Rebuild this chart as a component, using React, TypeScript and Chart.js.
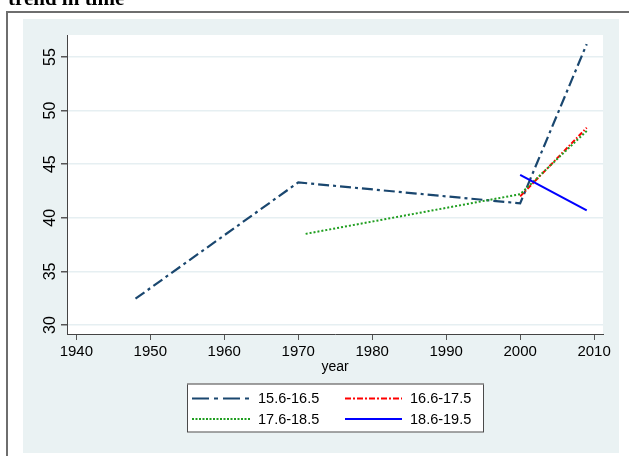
import React, { useEffect, useRef } from "react";
import { Chart, registerables } from "chart.js";

Chart.register(...registerables);

const TITLE = "trend in time";
const X_TITLE = "year";

const xTicks = [1940, 1950, 1960, 1970, 1980, 1990, 2000, 2010];
const yTicks = [30, 35, 40, 45, 50, 55];

const seriesNames = ["15.6-16.5", "16.6-17.5", "17.6-18.5", "18.6-19.5"];

const years1 = [1948, 1970, 2000, 2009];
const values1 = [32.45, 43.3, 41.35, 56.2];

const years2 = [2000, 2009];
const values2 = [42.0, 48.4];

const years3 = [1971, 2000, 2009];
const values3 = [38.5, 42.2, 48.1];

const years4 = [2000, 2009];
const values4 = [44.0, 40.7];

const colors = ["#1a476f", "#ff0000", "#1f9e1f", "#0000ff"];
const dataDash = [[11, 4, 3, 4], [5, 2, 1.5, 2], [2, 2], []];
const legendDash = [[17, 5, 4, 5], [6, 2, 2, 2], [2, 1.5], []];
const widths = [2.2, 2, 2, 2];

const SANS = '"Liberation Sans", Arial, sans-serif';

const toPts = (xs: number[], ys: number[]) => xs.map((x, i) => ({ x, y: ys[i] }));

const decorPlugin = {
  id: "decor",
  beforeDraw(chart: any) {
    const { ctx, chartArea: a, width, height } = chart;
    ctx.save();
    ctx.fillStyle = "#ffffff";
    ctx.fillRect(0, 0, width, height);
    ctx.fillStyle = "#000000";
    ctx.font = 'bold 21px "Liberation Serif", "Times New Roman", serif';
    ctx.textAlign = "left";
    ctx.textBaseline = "alphabetic";
    ctx.fillText(TITLE, 8, 5);
    ctx.fillStyle = "#6e6e6e";
    ctx.fillRect(7, 11, width - 7, 2);
    ctx.fillRect(6, 11, 2, height - 11);
    ctx.fillStyle = "#eaf2f3";
    ctx.fillRect(23, 19, 596, 434);
    ctx.fillStyle = "#ffffff";
    ctx.fillRect(a.left, a.top, a.right - a.left, a.bottom - a.top);
    ctx.restore();
  },
  afterDraw(chart: any) {
    const { ctx, chartArea: a } = chart;
    ctx.save();
    ctx.fillStyle = "#000000";
    ctx.font = `14px ${SANS}`;
    ctx.textAlign = "center";
    ctx.textBaseline = "middle";
    ctx.fillText(X_TITLE, (a.left + a.right) / 2, 367);
    const bx = 187, by = 383.5, bw = 297, bh = 49;
    ctx.fillStyle = "#ffffff";
    ctx.fillRect(bx, by, bw, bh);
    ctx.strokeStyle = "#4a4a4a";
    ctx.lineWidth = 1;
    ctx.strokeRect(bx + 0.5, by + 0.5, bw - 1, bh - 1);
    ctx.fillStyle = "#9a9a9a";
    ctx.fillRect(bx, by - 0.5, bw, 1.5);
    const rows = [398.5, 419];
    const lineX = [[192, 250], [345, 402]];
    const textX = [258, 410];
    chart.data.datasets.forEach((ds: any, i: number) => {
      const col = i % 2;
      const row = Math.floor(i / 2);
      const y = rows[row];
      ctx.strokeStyle = ds.borderColor;
      ctx.lineWidth = ds.borderWidth;
      ctx.setLineDash(legendDash[i]);
      ctx.beginPath();
      ctx.moveTo(lineX[col][0], y);
      ctx.lineTo(lineX[col][1], y);
      ctx.stroke();
      ctx.setLineDash([]);
      ctx.fillStyle = "#000000";
      ctx.font = `14.5px ${SANS}`;
      ctx.textAlign = "left";
      ctx.textBaseline = "middle";
      ctx.fillText(ds.label, textX[col], y + 0.5);
    });
    ctx.restore();
  },
};

export default function App() {
  const ref = useRef<HTMLCanvasElement | null>(null);

  useEffect(() => {
    if (!ref.current) return;
    const series = [
      toPts(years1, values1),
      toPts(years2, values2),
      toPts(years3, values3),
      toPts(years4, values4),
    ];
    const chart = new Chart(ref.current, {
      type: "line",
      data: {
        datasets: series.map((pts, i) => ({
          label: seriesNames[i],
          data: pts,
          borderColor: colors[i],
          backgroundColor: colors[i],
          borderWidth: widths[i],
          borderDash: dataDash[i],
          pointRadius: 0,
          pointHoverRadius: 0,
          tension: 0,
          fill: false,
          order: 4 - i,
        })),
      },
      options: {
        animation: false,
        responsive: false,
        devicePixelRatio: 1,
        events: [],
        layout: { padding: { left: 0, top: 35, right: 26, bottom: 92 } },
        plugins: {
          legend: { display: false },
          title: { display: false },
          tooltip: { enabled: false },
        },
        scales: {
          x: {
            type: "linear",
            position: "bottom",
            min: 1938.74,
            max: 2011.2,
            afterBuildTicks: (s: any) => {
              s.ticks = xTicks.map((v) => ({ value: v }));
            },
            afterFit: (s: any) => {
              s.height = 30;
            },
            ticks: {
              callback: (v: any) => String(v),
              color: "#000000",
              font: { family: SANS, size: 15 },
              padding: 3,
              maxRotation: 0,
              minRotation: 0,
            },
            grid: {
              drawOnChartArea: false,
              drawTicks: true,
              tickLength: 6,
              tickColor: "#555555",
              color: "#555555",
            },
            border: { display: true, color: "#444444", width: 1 },
          },
          y: {
            type: "linear",
            position: "left",
            min: 29.16,
            max: 57.05,
            afterBuildTicks: (s: any) => {
              s.ticks = yTicks.map((v) => ({ value: v }));
            },
            afterFit: (s: any) => {
              s.width = 67;
            },
            ticks: {
              callback: (v: any) => String(v),
              color: "#000000",
              font: { family: SANS, size: 16 },
              padding: 1.5,
              minRotation: 90,
              maxRotation: 90,
              crossAlign: "center",
            },
            grid: {
              drawOnChartArea: true,
              drawTicks: true,
              tickLength: 6,
              color: "#e6eff2",
              lineWidth: 1.5,
              tickColor: "#555555",
            },
            border: { display: true, color: "#444444", width: 1 },
          },
        },
      },
      plugins: [decorPlugin],
    } as any);
    return () => chart.destroy();
  }, []);

  return (
    <div style={{ position: "absolute", left: 0, top: 0, width: 629, height: 456 }}>
      <canvas ref={ref} width={629} height={456} style={{ display: "block", width: 629, height: 456 }} />
    </div>
  );
}
